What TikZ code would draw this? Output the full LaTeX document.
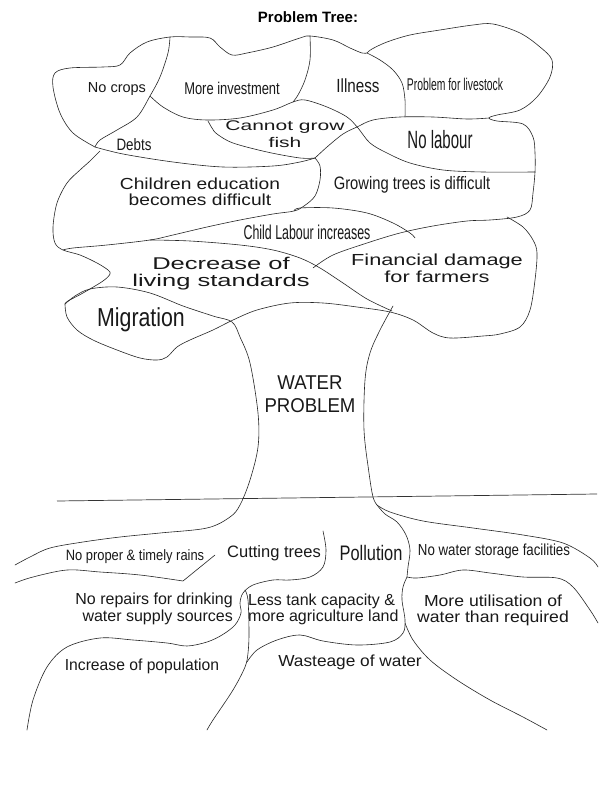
\documentclass[tikz,border=0pt]{standalone}
\usepackage{fontspec}
\usepackage{graphicx}
\setmainfont{Liberation Sans}
\newcommand\tx[3]{\scalebox{#2}[1]{\fontsize{#1}{#1}\selectfont #3}}
\newcommand\TL[5]{\scalebox{#2}[1]{\fontsize{#1}{#3}\selectfont\begin{tabular}{@{}#4@{}}#5\end{tabular}}}
\tikzset{
  lbl/.style={inner sep=0pt, text=black!90},
  curve/.style={line width=0.6pt, draw=black!85, line join=round, line cap=round},
  sm/.style={smooth, tension=0.55}
}
\begin{document}
\begin{tikzpicture}[x=1pt,y=-1pt]
\fill[white] (0,0) rectangle (598,794);
\useasboundingbox (0,0) rectangle (598,794);

% ---------------- crown ----------------
% outer top-left outline
\draw[curve] plot[sm] coordinates {(95,147) (73,133) (60,113) (53,87) (55,73) (70,68) (103,67) (120,65) (130,53) (147,42) (170,37) (190,37) (210,38) (220,47) (232,55) (247,53) (273,47) (300,38) (310,36) (333,40) (350,48) (362,53) (367,53)};
% right outline (livestock, no labour, growing trees, financial top)
\draw[curve] plot[sm] coordinates {(367,53) (372,49) (387,42) (410,35) (440,30) (473,25) (493,24) (520,33) (540,47) (552,60) (550,77) (537,97) (520,110) (497,115) (489,118) (497,121) (523,124) (533,137) (535,153) (535,172) (533,193) (530,210) (517,217) (490,220) (467,221) (433,226) (400,233) (367,243) (333,255) (313,268)};
% illness / livestock divider
\draw[curve] plot[sm] coordinates {(367,53) (380,60) (393,70) (402,83) (405,100) (405,117)};
% no crops / more investment divider
\draw[curve] plot[sm] coordinates {(170,37) (168,53) (160,77) (150,96) (137,117) (117,130) (100,140) (95,147)};
% more investment bottom -> no labour bottom
\draw[curve] plot[sm] coordinates {(150,96) (163,107) (183,117) (207,120) (240,118) (273,110) (293,102) (305,100) (327,107) (347,117) (358,128) (370,143) (387,153) (410,163) (443,170) (483,172) (535,172)};
% more investment right side
\draw[curve] plot[sm] coordinates {(310,36) (310,60) (305,80) (298,95) (293,102)};
% cannot grow fish bottom
\draw[curve] plot[sm] coordinates {(208,121) (212,128) (217,134) (233,143) (267,152) (300,158) (315,158)};
% debts bottom
\draw[curve] plot[sm] coordinates {(95,147) (123,154) (173,162) (223,167) (273,166) (300,162) (315,158)};
% no labour top
\draw[curve] plot[sm] coordinates {(315,158) (327,147) (343,134) (357,127) (373,120) (400,117) (433,117) (467,119) (489,118)};
% children education right side and bottom
\draw[curve] plot[sm] coordinates {(315,158) (320,166) (320,180) (315,196) (304,206) (294,211) (273,214) (240,220) (207,227) (173,235) (150,240) (107,245) (73,248) (63,250)};
% children education left side, zigzag
\draw[curve] plot[sm] coordinates {(100,151) (90,161) (80,170) (67,183) (57,203) (53,227) (55,243) (63,250) (80,255) (97,263) (108,270) (110,274) (103,281) (83,293) (68,301) (65,304)};
% child labour top
\draw[curve] plot[sm] coordinates {(294,211) (300,208) (333,208) (367,213) (393,223) (410,233) (415,238)};
% decrease top -> diagonal
\draw[curve] plot[sm] coordinates {(150,240) (190,241) (240,245) (273,250) (300,258) (320,268) (343,283) (367,299) (392,311)};
% migration top -> trunk left -> root
\draw[curve] plot[sm] coordinates {(65,304) (75,296) (90,289) (117,287) (150,293) (183,306) (213,316) (232,322) (240,337) (250,363) (258,413) (258,447) (250,480) (240,505) (230,517) (207,528) (160,533) (120,537) (83,542) (50,548) (30,557) (15,565)};
% migration bottom -> trunk top -> financial damage
\draw[curve] plot[sm] coordinates {(65,304) (67,317) (77,330) (93,340) (117,350) (140,358) (157,360) (167,357) (177,347) (190,340) (213,330) (233,320) (257,310) (290,303) (323,303) (357,307) (390,312) (413,320) (433,333) (450,338) (483,336) (500,334) (520,327) (530,310) (535,280) (537,253) (533,240) (523,227) (507,217)};
% trunk right
\draw[curve] plot[sm] coordinates {(393,306) (380,330) (370,353) (365,380) (364,430) (369,473) (373,497) (377,505)};

% ---------------- ground ----------------
\draw[line width=0.7pt, black!80] (57,501) -- (597,494);

% ---------------- roots ----------------
\draw[curve] plot[sm] coordinates {(15,583) (33,577) (67,570) (100,572) (140,575) (183,581)} -- (215,555);
\draw[curve] plot[sm] coordinates {(323,531) (326,550) (323,567) (310,577) (290,580) (273,580) (253,585) (243,593) (240,603) (241,613) (235,625) (222,635) (207,642) (187,646) (167,643) (133,640) (100,638) (67,647) (47,667) (33,700) (27,730)};
\draw[curve] plot[sm] coordinates {(245,590) (248,600) (249,633) (248,653) (245,667) (233,690) (213,720) (207,730)};
\draw[curve] plot[sm] coordinates {(247,662) (257,650) (277,640) (300,635) (323,641) (357,645) (390,642) (403,633) (405,620) (402,600) (403,587) (407,577)};
\draw[curve] plot[sm] coordinates {(405,623) (413,640) (430,660) (457,680) (490,700) (523,717) (547,730)};
\draw[curve] plot[sm] coordinates {(407,577) (417,578) (440,575) (463,570) (490,573) (523,577) (557,578) (573,587) (590,610) (598,623)};
\draw[curve] plot[sm] coordinates {(377,505) (385,514) (397,522) (406,535) (410,550) (408,567) (407,577)};
\draw[curve] plot[sm] coordinates {(377,505) (390,512) (423,521) (473,528) (523,535) (563,543) (590,558) (598,567)};

% ---------------- labels ----------------
\node[lbl, text=black] (title) at (308,17) {\tx{15}{1}{\bfseries Problem Tree:}};
\node[lbl] (nocrops) at (117,89) {\tx{14.5}{1}{No crops}};
\node[lbl] (moreinv) at (232,88) {\tx{17}{0.76}{More investment}};
\node[lbl] (illness) at (358,86) {\tx{19}{0.8}{Illness}};
\node[lbl] (livestock) at (455,84) {\tx{17}{0.61}{Problem for livestock}};
\node[lbl] (cgf) at (285,136) {\TL{14}{1.5}{17}{c}{Cannot grow\\fish}};
\node[lbl] (nolabour) at (440,140) {\tx{25}{0.6}{No labour}};
\node[lbl] (debts) at (134,145) {\tx{16.5}{0.81}{Debts}};
\node[lbl] (children) at (200,194) {\TL{16}{1.2}{14}{c}{Children education\\becomes difficult}};
\node[lbl] (growing) at (412,185) {\tx{18}{0.82}{Growing trees is difficult}};
\node[lbl] (childlab) at (307,232) {\tx{20}{0.62}{Child Labour increases}};
\node[lbl] (decrease) at (221,274) {\TL{17}{1.5}{16}{c}{Decrease of\\living standards}};
\node[lbl] (financial) at (437,271) {\TL{16}{1.36}{17}{c}{Financial damage\\for farmers}};
\node[lbl] (migration) at (141,320) {\tx{26}{0.82}{Migration}};
\node[lbl] (water) at (310,396) {\TL{20}{0.93}{23}{c}{WATER\\PROBLEM}};
\node[lbl] (norains) at (135,557) {\tx{15}{0.86}{No proper \& timely rains}};
\node[lbl] (cutting) at (274,553) {\tx{16.5}{1}{Cutting trees}};
\node[lbl] (pollution) at (371,553) {\tx{21}{0.78}{Pollution}};
\node[lbl] (nowater) at (494,551) {\tx{16}{0.83}{No water storage facilities}};
\node[lbl, anchor=east] (norepairs) at (233,610) {\TL{16}{1}{17}{r}{No repairs for drinking\\water supply sources}};
\node[lbl, anchor=west] (lesstank) at (248,610) {\TL{16}{1}{16}{l}{Less tank capacity \&\\more agriculture land}};
\node[lbl] (moreutil) at (493,611) {\TL{16}{1.1}{15}{c}{More utilisation of\\water than required}};
\node[lbl] (increase) at (142,666) {\tx{16}{0.98}{Increase of population}};
\node[lbl] (wasteage) at (350,662) {\tx{16}{1.08}{Wasteage of water}};
\end{tikzpicture}
\end{document}
